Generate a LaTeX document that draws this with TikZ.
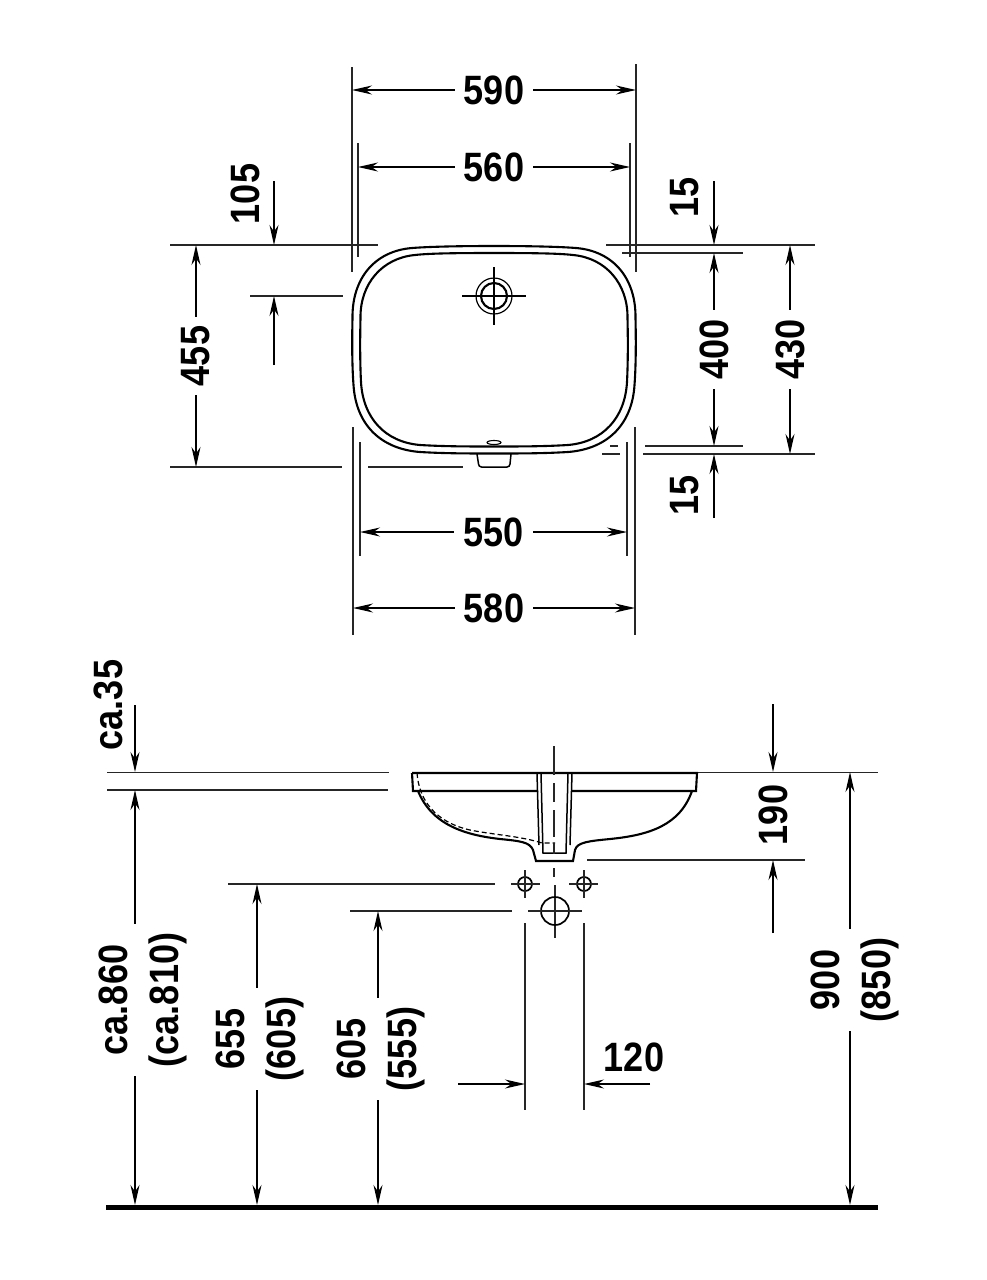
\documentclass[tikz,border=0pt]{standalone}
\usepackage{fontspec}
\newfontfamily\dimfont[FakeStretch=0.88]{Liberation Sans}
\usetikzlibrary{arrows.meta}
\begin{document}
\begin{tikzpicture}[x=1pt,y=-1pt,
  dimline/.style={line width=1.3pt,{Stealth[length=20pt,width=9pt]}-{Stealth[length=20pt,width=9pt]}},
  tipline/.style={line width=1.3pt,-{Stealth[length=20pt,width=9pt]}},
  extline/.style={line width=1.3pt,black!85},
  basin/.style={line width=2.1pt},
  hidden/.style={line width=1.2pt,dash pattern=on 5pt off 3pt},
  dimtext/.style={font=\dimfont\fontsize{41pt}{51pt}\bfseries\selectfont,fill=white,inner xsep=9pt,inner ysep=0pt,align=center},
  vdimtext/.style={dimtext,rotate=90}]
\useasboundingbox (0,0) rectangle (987,1280);

% plan view, extension lines
\draw[extline] (352,67)--(352,272);
\draw[extline] (636,64)--(636,272);
\draw[extline] (358,143)--(358,257);
\draw[extline] (630,143)--(630,257);
\draw[extline] (353,427)--(353,635);
\draw[extline] (635,427)--(635,635);
\draw[extline] (360,442)--(360,556);
\draw[extline] (627,442)--(627,556);
\draw[extline] (170,245)--(378,245);
\draw[extline] (606,245)--(815,245);
\draw[extline] (622,253)--(743,253);
\draw[extline] (250,296)--(343,296);
\draw[extline] (610,446)--(618,446);
\draw[extline] (645,446)--(743,446);
\draw[extline] (602,454)--(620,454);
\draw[extline] (643,454)--(815,454);
\draw[extline] (170,467)--(342,467);
\draw[extline] (368,467)--(463,467);

% plan view, basin
\draw[basin] (494,246) .. controls (450,246) and (425,247) .. (412,248)
  .. controls (375,251) and (352,278) .. (352.5,318)
  .. controls (352,340) and (352,365) .. (353.5,385)
  .. controls (356,425) and (381,449) .. (420,452)
  .. controls (445,453.5) and (470,453.5) .. (494,453.5)
  .. controls (518,453.5) and (543,453.5) .. (568,452)
  .. controls (607,449) and (632,425) .. (634.5,385)
  .. controls (636,365) and (636,340) .. (635.5,318)
  .. controls (636,278) and (613,251) .. (576,248)
  .. controls (563,247) and (538,246) .. (494,246) -- cycle;
\draw[basin] (494,253) .. controls (450,253) and (428,253.5) .. (415,255)
  .. controls (382,258) and (360,284) .. (360.5,318)
  .. controls (360,340) and (360,362) .. (361,382)
  .. controls (363,418) and (385,442) .. (420,445)
  .. controls (445,446.5) and (470,446.5) .. (494,446.5)
  .. controls (518,446.5) and (543,446.5) .. (568,445)
  .. controls (603,442) and (625,418) .. (627,382)
  .. controls (628,362) and (628,340) .. (627.5,318)
  .. controls (628,284) and (606,258) .. (573,255)
  .. controls (560,253.5) and (538,253) .. (494,253) -- cycle;
\draw[line width=1.2pt] (494,296) circle (18);
\draw[line width=2.1pt] (494,296) circle (13);
\draw[line width=1.3pt] (462,296)--(526,296);
\draw[line width=1.3pt] (494,267)--(494,325);
\draw[line width=1.1pt] (494,442.5) ellipse (7 and 2);
\draw[line width=1.5pt] (477,454)--(478.5,464) arc[start angle=180,end angle=90,radius=3] --(507,467) arc[start angle=90,end angle=0,radius=3] --(511,454);

% plan view, dimensions
\draw[dimline] (352,90)--node[dimtext](dimA){590}(636,90);
\draw[dimline] (358,167)--node[dimtext](dimB){560}(630,167);
\draw[dimline] (360,532)--node[dimtext](dimC){550}(627,532);
\draw[dimline] (353,608)--node[dimtext](dimD){580}(635,608);
\draw[dimline] (196,245)--node[vdimtext](dimE){455}(196,467);
\draw[dimline] (714,253)--node[vdimtext](dimF){400}(714,446);
\draw[dimline] (790,245)--node[vdimtext](dimG){430}(790,454);
\draw[tipline] (274,181)--(274,245);
\draw[tipline] (274,365)--(274,296);
\node[vdimtext] (dimH) at (245,194) {105};
\draw[tipline] (714,181)--(714,245);
\node[vdimtext] (dimI) at (685,197) {15};
\draw[tipline] (714,518)--(714,454);
\node[vdimtext] (dimJ) at (685,495) {15};

% side view, extension lines
\draw[extline] (107,772.5)--(389,772.5);
\draw[extline] (697,772.5)--(878,772.5);
\draw[extline] (107,790)--(388,790);
\draw[extline] (228,884)--(495,884);
\draw[extline] (350,911)--(512,911);
\draw[extline] (587,860)--(805,860);
\draw[extline] (525,923)--(525,1110);
\draw[extline] (584,923)--(584,1110);

% side view, basin
\draw[basin] (412,773)--(697,773)--(696,791)--(572,791);
\draw[basin] (538,791)--(413,791)--(412,773);
\draw[basin] (418,791) .. controls (432,825) and (465,835) .. (500,839)
  .. controls (520,841) and (530,842) .. (533,850) -- (536,861) -- (573,861) -- (575,850)
  .. controls (577,842) and (590,841) .. (610,839)
  .. controls (650,835) and (680,825) .. (692,791);
\draw[line width=1.5pt] (537,773)--(539,845);
\draw[line width=1.5pt] (572,773)--(570,845);
\draw[line width=1.5pt] (541,773)--(543,853)--(566,853)--(568,773);
\draw[hidden] (417,773) .. controls (419,800) and (435,822) .. (470,830)
  .. controls (495,835) and (520,836) .. (542,843) -- (555,843);
\draw[extline] (554,746)--(554,775);
\draw[extline] (554,783)--(554,802);
\draw[extline] (554,810)--(554,837);
\draw[extline] (554,843)--(554,854);
\draw[extline] (554,868)--(554,877);
\draw[extline] (555,885)--(555,938);
\draw[line width=1.7pt] (525,884) circle (7);
\draw[line width=1.7pt] (584,884) circle (7);
\draw[line width=1.7pt] (555,911) circle (14);
\draw[extline] (511,884)--(540,884);
\draw[extline] (525,870)--(525,898);
\draw[extline] (569,884)--(598,884);
\draw[extline] (584,870)--(584,898);
\draw[extline] (528,911)--(582,911);

% side view, dimensions
\draw[line width=5pt] (106,1207.5)--(878,1207.5);
\draw[tipline] (135,705)--(135,772);
\node[vdimtext] (dimK) at (108,705) {ca.35};
\draw[dimline] (135,790)--(135,1205);
\node[vdimtext] (dimL) at (143,1000) {ca.860\\(ca.810)};
\draw[dimline] (257,884)--(257,1205);
\node[vdimtext] (dimM) at (260,1039) {655\\(605)};
\draw[dimline] (378,911)--(378,1205);
\node[vdimtext] (dimN) at (381,1049) {605\\(555)};
\draw[dimline] (850,772)--(850,1205);
\node[vdimtext] (dimO) at (855,980) {900\\(850)};
\draw[tipline] (773,704)--(773,772);
\node[vdimtext] (dimP) at (773,815) {190};
\draw[tipline] (773,933)--(773,860);
\draw[tipline] (458,1084)--(525,1084);
\draw[tipline] (650,1084)--(584,1084);
\node[dimtext,fill=none] (dimQ) at (634,1057) {120};
\end{tikzpicture}
\end{document}
